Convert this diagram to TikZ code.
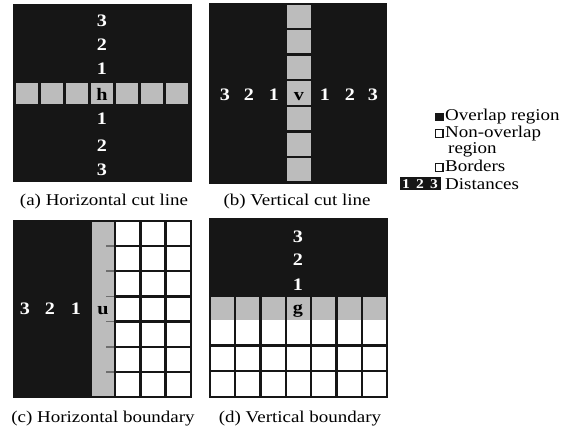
\documentclass[tikz,border=0pt]{standalone}
\usepackage{fontspec}
\setmainfont{Liberation Serif}[FakeStretch=1.15]
\definecolor{dk}{RGB}{22,22,22}
\definecolor{gr}{RGB}{188,188,188}
\definecolor{stub}{RGB}{110,110,110}
\begin{document}
\begin{tikzpicture}[x=1pt,y=-1pt,
  num/.style={text=white,font=\fontsize{17.5}{18}\selectfont\bfseries,inner sep=0pt,anchor=base},
  lab/.style={text=black,font=\fontsize{17.5}{18}\selectfont\bfseries,inner sep=0pt,anchor=base},
  captxt/.style={font=\fontsize{16.5}{18}\selectfont,inner sep=0pt,anchor=base},
  legtxt/.style={font=\fontsize{16.5}{18}\selectfont,inner sep=0pt,anchor=base west},
  legnum/.style={text=white,font=\fontsize{13.5}{14}\selectfont\bfseries,inner sep=0pt,anchor=base},
  gridline/.style={draw=dk,line width=2.4pt},
  frame/.style={draw=dk,line width=2pt}
]
\useasboundingbox[fill=white] (0,0) rectangle (577,433);

% ---------- (a) horizontal cut line
\fill[dk] (13,4) rectangle (192,182);
\foreach \i in {0,...,6}
  \fill[gr] ({16+25*\i},83) rectangle ({37.5+25*\i},104);
\node[num] (a3u) at (102,27) {3};
\node[num] (a2u) at (102,51) {2};
\node[num] (a1u) at (102,75) {1};
\node[lab] (ah)  at (102,100) {h};
\node[num] (a1d) at (102,124) {1};
\node[num] (a2d) at (102,151) {2};
\node[num] (a3d) at (102,175) {3};
\node[captxt] (capa) at (104,205) {(a) Horizontal cut line};

% ---------- (b) vertical cut line
\fill[dk] (209,3) rectangle (387,184);
\foreach \i in {0,...,6}
  \fill[gr] (287,{5+25.5*\i}) rectangle (311,{28+25.5*\i});
\node[num] (b3l) at (225,100) {3};
\node[num] (b2l) at (249,100) {2};
\node[num] (b1l) at (274,100) {1};
\node[lab] (bv)  at (299,100) {v};
\node[num] (b1r) at (325,100) {1};
\node[num] (b2r) at (350,100) {2};
\node[num] (b3r) at (373,100) {3};
\node[captxt] (capb) at (297,205) {(b) Vertical cut line};

% ---------- (c) horizontal boundary
\fill[dk] (14,221) rectangle (92,397);
\fill[gr] (92,221) rectangle (115,397);
\foreach \k in {1,...,6}
  \draw[stub,line width=1.6pt] (106,{221+25.14*\k}) -- (115,{221+25.14*\k});
\foreach \k in {1,...,6}
  \draw[gridline] (115,{221+25.14*\k}) -- (191,{221+25.14*\k});
\foreach \x in {115,140.5,165.5}
  \draw[gridline] (\x,221) -- (\x,397);
\draw[frame] (14,221) rectangle (191,397);
\node[num] (c3) at (25,314) {3};
\node[num] (c2) at (50,314) {2};
\node[num] (c1) at (76,314) {1};
\node[lab] (cu) at (103,314) {u};
\node[captxt] (capc) at (103,422) {(c) Horizontal boundary};

% ---------- (d) vertical boundary
\fill[dk] (210,219) rectangle (387,297);
\fill[gr] (210,297) rectangle (387,320);
\foreach \k in {1,...,6}
  \draw[gridline] ({210+25.29*\k},297) -- ({210+25.29*\k},397);
\foreach \y in {345.5,371}
  \draw[gridline] (210,\y) -- (387,\y);
\draw[frame] (210,219) rectangle (387,397);
\node[num] (d3) at (298,242) {3};
\node[num] (d2) at (298,265) {2};
\node[num] (d1) at (298,290) {1};
\node[lab] (dg) at (298,313) {g};
\node[captxt] (capd) at (300,422) {(d) Vertical boundary};

% ---------- legend
\fill[dk] (435,112.5) rectangle (443.5,121);
\node[legtxt] (l1) at (445,121) {Overlap region};
\draw[dk,line width=1.4pt] (435.7,129.7) rectangle (442.8,137.3);
\node[legtxt] (l2) at (445,137) {Non-overlap};
\node[legtxt] (l2b) at (448,153) {region};
\draw[dk,line width=1.4pt] (435.7,163.7) rectangle (442.8,171.3);
\node[legtxt] (l3) at (445,171) {Borders};
\fill[dk] (400,177) rectangle (441,190);
\node[legnum] (ld1) at (406,188) {1};
\node[legnum] (ld2) at (420,188) {2};
\node[legnum] (ld3) at (434,188) {3};
\node[legtxt] (l4) at (445,189) {Distances};
\end{tikzpicture}
\end{document}
